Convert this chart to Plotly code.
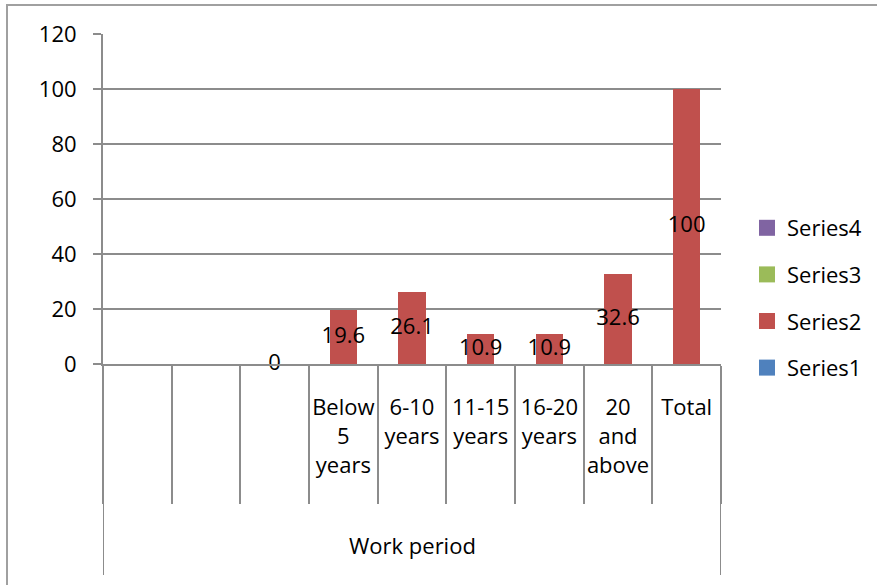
import plotly.graph_objects as go

categories = ["", "", "", "Below<br>5<br>years", "6-10<br>years", "11-15<br>years",
              "16-20<br>years", "20<br>and<br>above", "Total"]
series2 = [None, None, 0, 19.6, 26.1, 10.9, 10.9, 32.6, 100]
empty = [None] * len(categories)
series_names = ["Series1", "Series2", "Series3", "Series4"]
series_colors = ["#4F81BD", "#C0504D", "#9BBB59", "#8064A2"]
group_label = "Work period"
y_ticks = [0, 20, 40, 60, 80, 100, 120]

FONT = "Open Sans"
FS = 22
GRID = "#8c8c8c"

xs = list(range(len(categories)))
fig = go.Figure()
for i, (name, col) in enumerate(zip(series_names, series_colors)):
    vals = series2 if name == "Series2" else empty
    fig.add_trace(go.Bar(x=xs, y=vals, name=name, marker_color=col,
                         marker_line_width=0, showlegend=False))
    # legend entry with a larger square swatch
    fig.add_trace(go.Scatter(x=[None], y=[None], name=name, mode="markers",
                             marker=dict(symbol="square", size=16, color=col),
                             legendgroup=name, legendrank=100 - i))

# data labels at bar centres
lbl_x = [x for x, v in zip(xs, series2) if v is not None]
lbl_y = [v / 2 for v in series2 if v is not None]
lbl_t = [f"{v:g}" for v in series2 if v is not None]
fig.add_trace(go.Scatter(x=lbl_x, y=lbl_y, text=lbl_t, mode="text",
                         textfont=dict(family=FONT, size=FS, color="black"),
                         showlegend=False, cliponaxis=False, hoverinfo="skip"))

L, R, T, B = 103, 156, 34, 221
W, H = 877, 585
ph = H - T - B
pw = W - L - R

fig.update_layout(
    width=W, height=H,
    margin=dict(l=L, r=R, t=T, b=B, autoexpand=False),
    paper_bgcolor="white", plot_bgcolor="white",
    barmode="stack", bargap=0.6,
    font=dict(family=FONT, size=FS, color="black"),
    showlegend=True,
    legend=dict(tracegroupgap=15,
                x=(747 - L) / pw, xanchor="left",
                y=(H - B - 298) / ph, yanchor="middle",
                font=dict(family=FONT, size=FS), bgcolor="rgba(0,0,0,0)"),
    xaxis=dict(range=[-0.5, len(categories) - 0.5], tickmode="array",
               tickvals=xs, ticktext=categories, ticks="", showgrid=False,
               zeroline=False, showline=True, linecolor=GRID, linewidth=2,
               ticklabelstandoff=23,
               minor=dict(tickmode="linear", tick0=-0.5, dtick=1, ticks="outside",
                          ticklen=138, tickwidth=2, tickcolor=GRID, showgrid=False)),
    yaxis=dict(range=[0, 120], tickmode="array", tickvals=y_ticks,
               showgrid=True, gridcolor=GRID, gridwidth=2, zeroline=False,
               showline=True, linecolor=GRID, linewidth=2,
               ticks="outside", ticklen=8, tickwidth=2, tickcolor=GRID,
               ticklabelstandoff=12),
)

# outer group dividers
bottom = (H - B - 575) / ph
for xb in (-0.5, len(categories) - 0.5):
    fig.add_shape(type="line", xref="x", yref="paper", x0=xb, x1=xb, y0=0, y1=bottom,
                  line=dict(color=GRID, width=2))
# chart border
fig.add_shape(type="rect", xref="paper", yref="paper",
              x0=(7 - L) / pw, x1=2, y0=-2, y1=(H - B - 5) / ph,
              line=dict(color="#a0a0a0", width=2), layer="below")

fig.add_annotation(text=group_label, xref="paper", yref="paper", x=0.5,
                   y=(H - B - 545) / ph, showarrow=False, yanchor="middle",
                   font=dict(family=FONT, size=FS))

fig.write_html("out.html", config={"displayModeBar": False},
               post_script="document.body.style.margin='0';document.body.style.overflow='hidden';")
